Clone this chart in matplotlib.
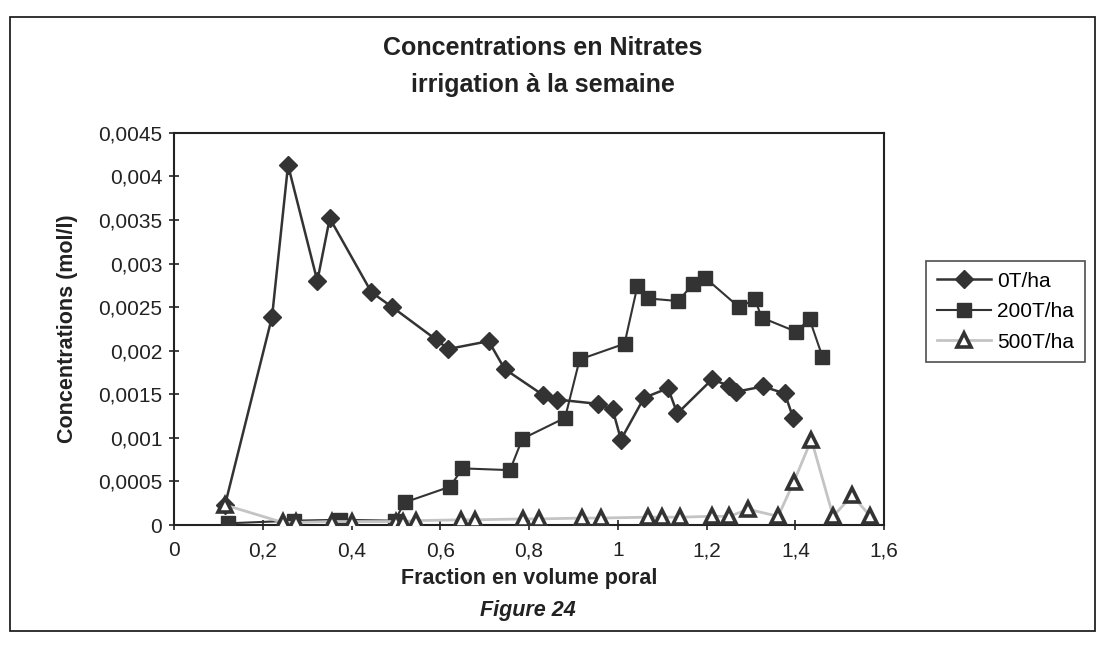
import matplotlib
matplotlib.use('Agg')
import matplotlib.pyplot as plt
from matplotlib.ticker import FuncFormatter, MultipleLocator
from matplotlib.patches import Rectangle

plt.rcParams['font.family'] = ['Liberation Sans', 'DejaVu Sans']

# data
x_0t = [0.115, 0.221, 0.257, 0.323, 0.351, 0.445, 0.492, 0.590, 0.618, 0.709, 0.745,
        0.832, 0.863, 0.956, 0.988, 1.007, 1.059, 1.113, 1.134, 1.212, 1.250, 1.267,
        1.327, 1.376, 1.395]
y_0t = [0.00023, 0.00239, 0.00413, 0.00280, 0.00352, 0.00267, 0.00250, 0.00213, 0.00202,
        0.00211, 0.00179, 0.00149, 0.00144, 0.00139, 0.00133, 0.00098, 0.00146, 0.00157,
        0.00128, 0.00167, 0.00160, 0.00153, 0.00159, 0.00151, 0.00123]

x_200t = [0.122, 0.270, 0.375, 0.497, 0.520, 0.622, 0.650, 0.757, 0.785, 0.881, 0.914,
          1.015, 1.044, 1.068, 1.136, 1.170, 1.196, 1.273, 1.309, 1.324, 1.401, 1.432, 1.461]
y_200t = [0.00002, 0.00005, 0.00006, 0.00005, 0.00026, 0.00044, 0.00065, 0.00063, 0.00099,
          0.00123, 0.00190, 0.00208, 0.00274, 0.00260, 0.00257, 0.00277, 0.00284, 0.00250,
          0.00259, 0.00238, 0.00222, 0.00236, 0.00193]

x_500t = [0.115, 0.245, 0.275, 0.355, 0.400, 0.500, 0.516, 0.545, 0.646, 0.678, 0.787,
          0.823, 0.920, 0.962, 1.068, 1.100, 1.141, 1.211, 1.251, 1.294, 1.361, 1.396,
          1.436, 1.485, 1.528, 1.569]
y_500t = [0.00023, 0.00003, 0.00003, 0.00004, 0.00004, 0.00004, 0.00004, 0.00005, 0.00006,
          0.00006, 0.00007, 0.00007, 0.00008, 0.00008, 0.00009, 0.00009, 0.00009, 0.00010,
          0.00010, 0.00018, 0.00010, 0.00049, 0.00098, 0.00010, 0.00034, 0.00010]

labels = ['0T/ha', '200T/ha', '500T/ha']

dark = '#333333'

fig = plt.figure(figsize=(11.08, 6.45), dpi=100)
ax = fig.add_axes([0.157, 0.186, 0.641, 0.608])

ax.plot(x_0t, y_0t, color=dark, lw=1.8, marker='D', ms=9, mfc=dark, mec=dark,
        label=labels[0], zorder=3)
ax.plot(x_200t, y_200t, color=dark, lw=1.5, marker='s', ms=10, mfc=dark, mec=dark,
        label=labels[1], zorder=3)
ax.plot(x_500t, y_500t, color='#c4c4c4', lw=2, marker='^', ms=10, mfc='white',
        mec=dark, mew=2.6, label=labels[2], zorder=4)

ax.set_xlim(0, 1.6)
ax.set_ylim(0, 0.0045)
ax.xaxis.set_major_locator(MultipleLocator(0.2))
ax.yaxis.set_major_locator(MultipleLocator(0.0005))
fmt = FuncFormatter(lambda v, p: '{:g}'.format(round(v, 6)).replace('.', ','))
ax.xaxis.set_major_formatter(fmt)
ax.yaxis.set_major_formatter(fmt)
ax.tick_params(direction='inout', length=7, width=1.2, labelsize=15, colors='#222222')
ax.tick_params(axis='y', pad=5)
ax.tick_params(axis='x', pad=8)
for s in ax.spines.values():
    s.set_linewidth(1.5)
    s.set_color('#222222')

ax.set_xlabel('Fraction en volume poral', fontsize=15.5, fontweight='bold',
              color='#222222', labelpad=6)
ax.set_ylabel('Concentrations (mol/l)', fontsize=15.5, fontweight='bold',
              color='#222222', labelpad=14)

fig.text(0.49, 0.925, 'Concentrations en Nitrates', ha='center', va='center',
         fontsize=18, fontweight='bold', color='#222222')
fig.text(0.49, 0.868, 'irrigation à la semaine', ha='center', va='center',
         fontsize=18, fontweight='bold', color='#222222')
fig.text(0.476, 0.054, 'Figure 24', ha='center', va='center', fontsize=15.5,
         fontweight='bold', style='italic', color='#222222')

leg = fig.legend(loc='upper left', bbox_to_anchor=(0.836, 0.595), fontsize=15,
                 frameon=True, fancybox=False, handlelength=2.6, handletextpad=0.3,
                 borderpad=0.5, labelspacing=0.55, borderaxespad=0)
leg.get_frame().set_edgecolor('#222222')
leg.get_frame().set_linewidth(1.2)

# outer frame of the scanned figure
fig.patches.append(Rectangle((0.009, 0.022), 0.979, 0.952, transform=fig.transFigure,
                             fill=False, lw=1.3, ec='#222222'))

fig.savefig('out.png', dpi=100)
